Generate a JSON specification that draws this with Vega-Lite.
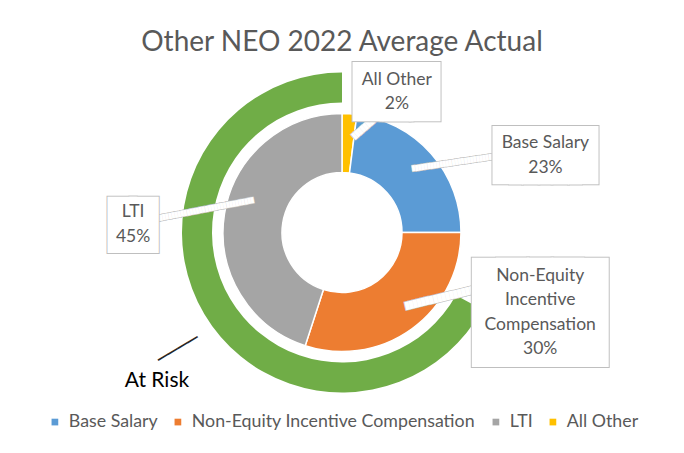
{
  "$schema": "https://vega.github.io/schema/vega-lite/v6.json",
  "width": 684,
  "height": 453,
  "autosize": {"type": "fit", "contains": "padding"},
  "padding": {"top": 29, "bottom": 22, "left": 0, "right": 0},
  "background": "#ffffff",
  "config": {"view": {"stroke": null}, "legend": {"layout": {"bottom": {"anchor": "middle"}}}},
  "title": {"text": "Other NEO 2022 Average Actual", "font": "Lato", "fontSize": 28, "fontWeight": "normal", "color": "#595959", "offset": 3, "anchor": "middle"},
  "datasets": {
    "pay": [
      {"category": "All Other", "label": "All Other", "value": 2, "order": 1},
      {"category": "Base Salary", "label": "Base Salary", "value": 23, "order": 2},
      {"category": "Non-Equity Incentive Compensation", "label": "Non-Equity\nIncentive\nCompensation", "value": 30, "order": 3},
      {"category": "LTI", "label": "LTI", "value": 45, "order": 4}
    ],
    "risk": [
      {"segment": "Not At Risk", "value": 33, "order": 1},
      {"segment": "At Risk", "value": 67, "order": 2}
    ]
  },
  "layer": [
    {
      "data": {"name": "risk"},
      "transform": [
        {"stack": "value", "groupby": [], "sort": [{"field": "order", "order": "ascending"}], "as": ["v0", "v1"]},
        {"calculate": "(datum.v0 + datum.v1) / 2", "as": "mid"},
        {"filter": "datum.segment === 'At Risk'"}
      ],
      "layer": [
        {
          "mark": {"type": "arc", "radius": 160, "radius2": 130, "color": "#70AD47"},
          "encoding": {
            "theta": {"field": "v0", "type": "quantitative", "scale": {"domain": [0, 100]}},
            "theta2": {"field": "v1"}
          }
        },
        {
          "mark": {"type": "text", "text": "────", "font": "DejaVu Sans Mono", "fontSize": 19, "angle": -31, "radius": 190.5, "dx": -10, "dy": 16.7, "color": "#262626", "align": "center", "baseline": "middle"},
          "encoding": {
            "theta": {"field": "mid", "type": "quantitative", "scale": {"domain": [0, 100]}}
          }
        },
        {
          "mark": {"type": "text", "radius": 237, "dx": 19, "dy": 27.4, "font": "Lato", "fontSize": 21, "color": "#000000", "align": "center", "baseline": "middle"},
          "encoding": {
            "theta": {"field": "mid", "type": "quantitative", "scale": {"domain": [0, 100]}},
            "text": {"field": "segment"}
          }
        }
      ]
    },
    {
      "data": {"name": "pay"},
      "mark": {"type": "arc", "radius": 119, "radius2": 60, "stroke": "#ffffff", "strokeWidth": 1.5},
      "encoding": {
        "theta": {"field": "value", "type": "quantitative", "stack": true, "scale": {"domain": [0, 100]}},
        "order": {"field": "order", "type": "quantitative"},
        "color": {
          "field": "category",
          "type": "nominal",
          "scale": {"domain": ["Base Salary", "Non-Equity Incentive Compensation", "LTI", "All Other"], "range": ["#5B9BD5", "#ED7D31", "#A5A5A5", "#FFC000"]},
          "legend": {"title": null, "orient": "bottom", "direction": "horizontal", "symbolType": "square", "symbolSize": 45, "symbolStrokeWidth": 0, "labelFont": "Lato", "labelFontSize": 17.8, "labelColor": "#595959", "labelLimit": 400, "columnPadding": 11, "labelOffset": 5, "offset": 8}
        }
      }
    },
    {
      "data": {"name": "pay"},
      "transform": [
        {"stack": "value", "groupby": [], "sort": [{"field": "order", "order": "ascending"}], "as": ["v0", "v1"]},
        {"calculate": "(datum.v0 + datum.v1) / 2", "as": "mid"},
        {"calculate": "datum.label + '\\n' + datum.value + '%'", "as": "txt"}
      ],
      "encoding": {
        "theta": {"field": "mid", "type": "quantitative", "scale": {"domain": [0, 100]}}
      },
      "layer": [
        {"transform": [{"filter": "datum.category === 'Base Salary'"}], "mark": {"type": "text", "text": "████████████████████████████", "font": "DejaVu Sans Mono", "fontSize": 5.15, "angle": -8.4, "radius": 106.5, "dx": 32.7, "dy": 4.8, "align": "center", "baseline": "middle", "fill": "#ffffff", "stroke": "#BFBFBF", "strokeWidth": 1.2}},
        {"transform": [{"filter": "datum.category === 'LTI'"}], "mark": {"type": "text", "text": "█████████████████████████████████", "font": "DejaVu Sans Mono", "fontSize": 5.15, "angle": -10.8, "radius": 140.2, "dx": 0.2, "dy": -1.3, "align": "center", "baseline": "middle", "fill": "#ffffff", "stroke": "#BFBFBF", "strokeWidth": 1.2}},
        {"transform": [{"filter": "datum.category === 'Non-Equity Incentive Compensation'"}], "mark": {"type": "text", "text": "██████████████████", "font": "DejaVu Sans Mono", "fontSize": 6.87, "angle": -13.4, "radius": 80.7, "dx": 50.6, "dy": 12.1, "align": "center", "baseline": "middle", "fill": "#ffffff", "stroke": "#BFBFBF", "strokeWidth": 1.2}},
        {"transform": [{"filter": "datum.category === 'All Other'"}], "mark": {"type": "text", "text": "█████████", "font": "DejaVu Sans Mono", "fontSize": 6.0, "angle": -41, "radius": 106.2, "dx": 12.7, "dy": 11, "align": "center", "baseline": "middle", "fill": "#ffffff", "stroke": "#BFBFBF", "strokeWidth": 1.2}},
        {"transform": [{"filter": "datum.category === 'Base Salary'"}], "mark": {"type": "text", "text": "████████████████████████████", "font": "DejaVu Sans Mono", "fontSize": 5.15, "angle": -8.4, "radius": 106.5, "dx": 32.7, "dy": 4.8, "align": "center", "baseline": "middle", "fill": "#ffffff"}},
        {"transform": [{"filter": "datum.category === 'LTI'"}], "mark": {"type": "text", "text": "█████████████████████████████████", "font": "DejaVu Sans Mono", "fontSize": 5.15, "angle": -10.8, "radius": 140.2, "dx": 0.2, "dy": -1.3, "align": "center", "baseline": "middle", "fill": "#ffffff"}},
        {"transform": [{"filter": "datum.category === 'Non-Equity Incentive Compensation'"}], "mark": {"type": "text", "text": "██████████████████", "font": "DejaVu Sans Mono", "fontSize": 6.87, "angle": -13.4, "radius": 80.7, "dx": 50.6, "dy": 12.1, "align": "center", "baseline": "middle", "fill": "#ffffff"}},
        {"transform": [{"filter": "datum.category === 'All Other'"}], "mark": {"type": "text", "text": "█████████", "font": "DejaVu Sans Mono", "fontSize": 6.0, "angle": -41, "radius": 106.2, "dx": 12.7, "dy": 11, "align": "center", "baseline": "middle", "fill": "#ffffff"}},

        {"transform": [{"filter": "datum.category === 'All Other'"}], "mark": {"type": "text", "text": "██", "font": "DejaVu Sans Mono", "fontSize": 49.8, "radius": 141, "dx": 32.5, "dy": 17.2, "align": "center", "baseline": "alphabetic", "fill": "#ffffff", "stroke": "#BFBFBF", "strokeWidth": 2}},
        {"transform": [{"filter": "datum.category === 'All Other'"}], "mark": {"type": "text", "text": "██", "font": "DejaVu Sans Mono", "fontSize": 49.8, "radius": 141, "dx": 59.5, "dy": 17.2, "align": "center", "baseline": "alphabetic", "fill": "#ffffff", "stroke": "#BFBFBF", "strokeWidth": 2}},
        {"transform": [{"filter": "datum.category === 'All Other'"}], "mark": {"type": "text", "text": "██", "font": "DejaVu Sans Mono", "fontSize": 49.8, "radius": 141, "dx": 32.5, "dy": 17.2, "align": "center", "baseline": "alphabetic", "fill": "#ffffff"}},
        {"transform": [{"filter": "datum.category === 'All Other'"}], "mark": {"type": "text", "text": "██", "font": "DejaVu Sans Mono", "fontSize": 49.8, "radius": 141, "dx": 59.5, "dy": 17.2, "align": "center", "baseline": "alphabetic", "fill": "#ffffff"}},
        {"transform": [{"filter": "datum.category === 'All Other'"}], "mark": {"type": "text", "radius": 141, "dx": 46, "dy": -12.25, "font": "Lato", "fontSize": 17.5, "lineHeight": 24.5, "lineBreak": "\n", "color": "#595959", "align": "center", "baseline": "middle"}, "encoding": {"text": {"field": "txt"}}},

        {"transform": [{"filter": "datum.category === 'Base Salary'"}], "mark": {"type": "text", "text": "███", "font": "DejaVu Sans Mono", "fontSize": 49, "radius": 116.5, "dx": 107.75, "dy": 17, "align": "center", "baseline": "alphabetic", "fill": "#ffffff", "stroke": "#BFBFBF", "strokeWidth": 2}},
        {"transform": [{"filter": "datum.category === 'Base Salary'"}], "mark": {"type": "text", "text": "███", "font": "DejaVu Sans Mono", "fontSize": 49, "radius": 116.5, "dx": 124.25, "dy": 17, "align": "center", "baseline": "alphabetic", "fill": "#ffffff", "stroke": "#BFBFBF", "strokeWidth": 2}},
        {"transform": [{"filter": "datum.category === 'Base Salary'"}], "mark": {"type": "text", "text": "███", "font": "DejaVu Sans Mono", "fontSize": 49, "radius": 116.5, "dx": 107.75, "dy": 17, "align": "center", "baseline": "alphabetic", "fill": "#ffffff"}},
        {"transform": [{"filter": "datum.category === 'Base Salary'"}], "mark": {"type": "text", "text": "███", "font": "DejaVu Sans Mono", "fontSize": 49, "radius": 116.5, "dx": 124.25, "dy": 17, "align": "center", "baseline": "alphabetic", "fill": "#ffffff"}},
        {"transform": [{"filter": "datum.category === 'Base Salary'"}], "mark": {"type": "text", "radius": 116.5, "dx": 116, "dy": -12.25, "font": "Lato", "fontSize": 17.5, "lineHeight": 24.5, "lineBreak": "\n", "color": "#595959", "align": "center", "baseline": "middle"}, "encoding": {"text": {"field": "txt"}}},

        {"transform": [{"filter": "datum.category === 'Non-Equity Incentive Compensation'"}], "mark": {"type": "text", "text": "██", "font": "DejaVu Sans Mono", "fontSize": 91.9, "radius": 99, "dx": 127.8, "dy": 31.8, "align": "center", "baseline": "alphabetic", "fill": "#ffffff", "stroke": "#BFBFBF", "strokeWidth": 2}},
        {"transform": [{"filter": "datum.category === 'Non-Equity Incentive Compensation'"}], "mark": {"type": "text", "text": "██", "font": "DejaVu Sans Mono", "fontSize": 91.9, "radius": 99, "dx": 152.2, "dy": 31.8, "align": "center", "baseline": "alphabetic", "fill": "#ffffff", "stroke": "#BFBFBF", "strokeWidth": 2}},
        {"transform": [{"filter": "datum.category === 'Non-Equity Incentive Compensation'"}], "mark": {"type": "text", "text": "██", "font": "DejaVu Sans Mono", "fontSize": 91.9, "radius": 99, "dx": 127.8, "dy": 31.8, "align": "center", "baseline": "alphabetic", "fill": "#ffffff"}},
        {"transform": [{"filter": "datum.category === 'Non-Equity Incentive Compensation'"}], "mark": {"type": "text", "text": "██", "font": "DejaVu Sans Mono", "fontSize": 91.9, "radius": 99, "dx": 152.2, "dy": 31.8, "align": "center", "baseline": "alphabetic", "fill": "#ffffff"}},
        {"transform": [{"filter": "datum.category === 'Non-Equity Incentive Compensation'"}], "mark": {"type": "text", "radius": 99, "dx": 140, "dy": -36.75, "font": "Lato", "fontSize": 17.5, "lineHeight": 24.5, "lineBreak": "\n", "color": "#595959", "align": "center", "baseline": "middle"}, "encoding": {"text": {"field": "txt"}}},

        {"transform": [{"filter": "datum.category === 'LTI'"}], "mark": {"type": "text", "text": "█", "font": "DejaVu Sans Mono", "fontSize": 47.25, "radius": 211.5, "dx": -10.8, "dy": 41.3, "align": "center", "baseline": "alphabetic", "fill": "#ffffff", "stroke": "#BFBFBF", "strokeWidth": 2}},
        {"transform": [{"filter": "datum.category === 'LTI'"}], "mark": {"type": "text", "text": "█", "font": "DejaVu Sans Mono", "fontSize": 47.25, "radius": 211.5, "dx": 10.8, "dy": 41.3, "align": "center", "baseline": "alphabetic", "fill": "#ffffff", "stroke": "#BFBFBF", "strokeWidth": 2}},
        {"transform": [{"filter": "datum.category === 'LTI'"}], "mark": {"type": "text", "text": "█", "font": "DejaVu Sans Mono", "fontSize": 47.25, "radius": 211.5, "dx": -10.8, "dy": 41.3, "align": "center", "baseline": "alphabetic", "fill": "#ffffff"}},
        {"transform": [{"filter": "datum.category === 'LTI'"}], "mark": {"type": "text", "text": "█", "font": "DejaVu Sans Mono", "fontSize": 47.25, "radius": 211.5, "dx": 10.8, "dy": 41.3, "align": "center", "baseline": "alphabetic", "fill": "#ffffff"}},
        {"transform": [{"filter": "datum.category === 'LTI'"}], "mark": {"type": "text", "radius": 211.5, "dx": 0, "dy": 12.75, "font": "Lato", "fontSize": 17.5, "lineHeight": 24.5, "lineBreak": "\n", "color": "#595959", "align": "center", "baseline": "middle"}, "encoding": {"text": {"field": "txt"}}}
      ]
    }
  ]
}
